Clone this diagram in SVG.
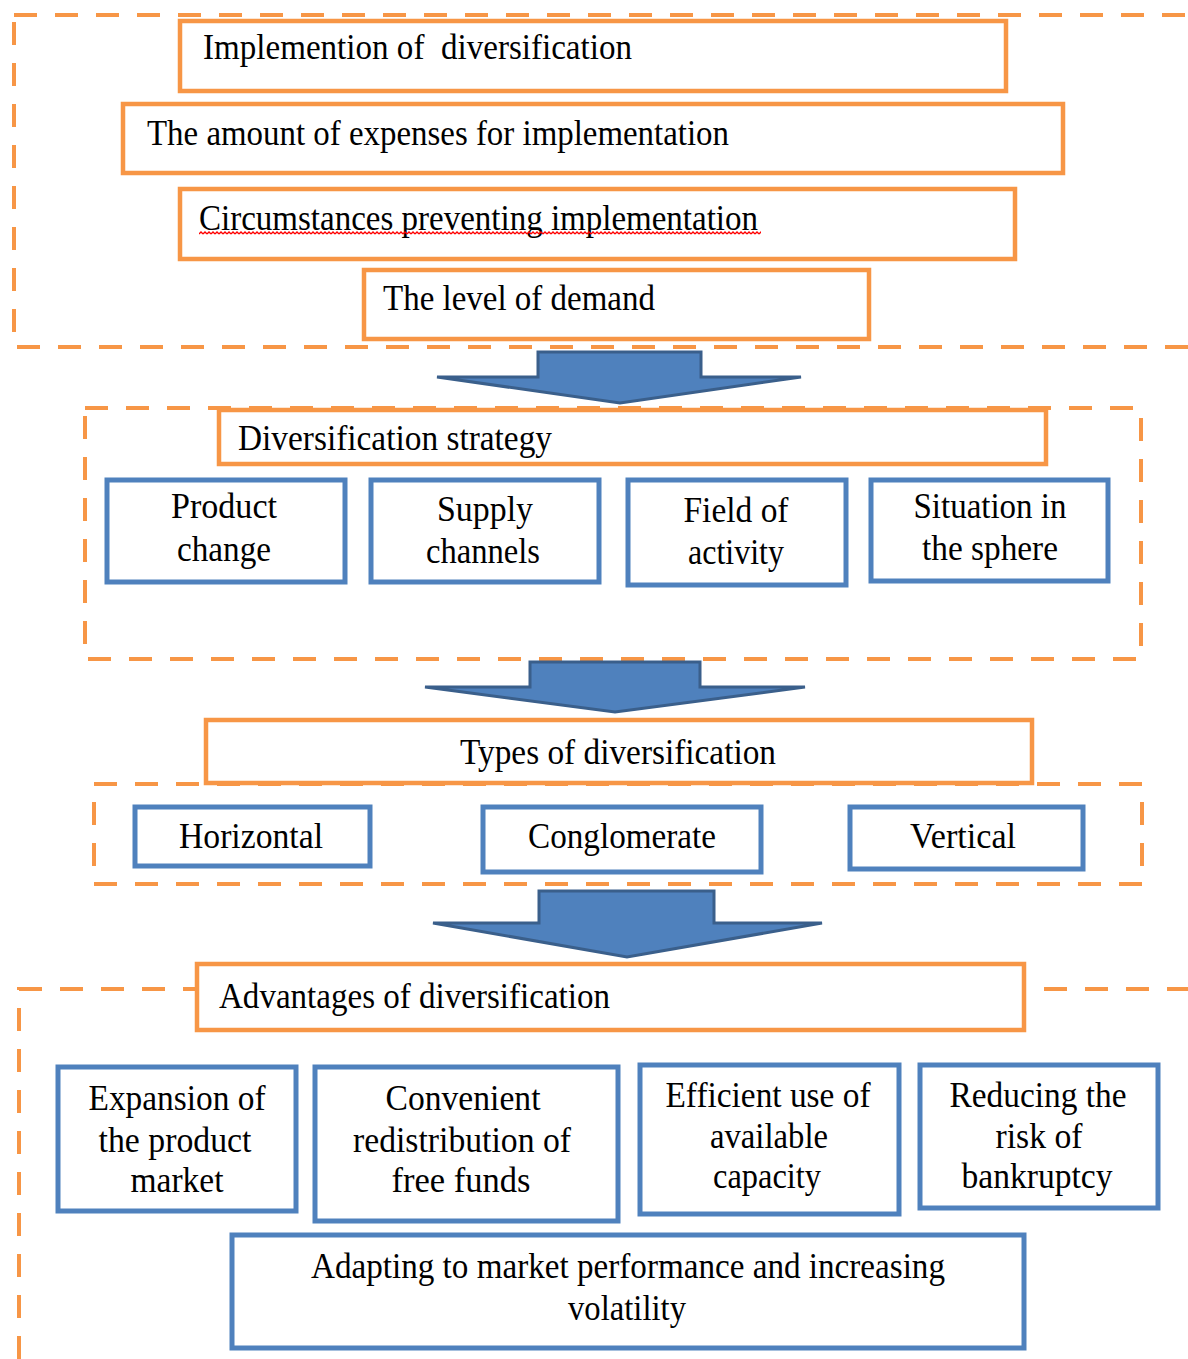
<svg xmlns="http://www.w3.org/2000/svg" width="1188" height="1359" viewBox="0 0 1188 1359">
<style>
.cont{fill:none;stroke:#F79646;stroke-width:4;stroke-dasharray:23 18}
.ob{fill:#fff;stroke:#F79646;stroke-width:4.5}
.bb{fill:#fff;stroke:#4F81BD;stroke-width:5}
.t{font-family:"Liberation Serif","Times New Roman",serif;font-size:36px;fill:#000}
.c{text-anchor:middle}
.arr{fill:#4F81BD;stroke:#3A5F8B;stroke-width:3;stroke-linejoin:miter}
</style>
<defs>
<pattern id="squig" x="199" y="231" width="4" height="4" patternUnits="userSpaceOnUse">
<path d="M0,3 L2,1 L4,3" fill="none" stroke="#FF0000" stroke-width="1.3"/>
</pattern>
</defs>
<rect width="1188" height="1359" fill="#fff"/>
<g id="containers">
<rect class="cont" x="14" y="15" width="1200" height="332"/>
<rect class="cont" x="85" y="408" width="1056" height="251"/>
<rect class="cont" x="94" y="784" width="1048" height="100"/>
<rect class="cont" x="19" y="989" width="1200" height="420"/>
</g>
<g id="connectors">
<polygon class="arr" points="538,352 701,352 701,377 801,377 620,403 437,377 538,377"/>
<polygon class="arr" points="530,662 700,662 700,687 805,687 615,712 425,687 530,687"/>
<polygon class="arr" points="539,891 714,891 714,923 822,923 627,957 433,923 539,923"/>
</g>
<g id="n-implemention">
<rect class="ob" x="180" y="21" width="826" height="70"/>
<text class="t" x="203" y="59" textLength="429" lengthAdjust="spacingAndGlyphs" xml:space="preserve">Implemention of  diversification</text>
</g>
<g id="n-expenses">
<rect class="ob" x="123" y="104" width="940" height="69"/>
<text class="t" x="147" y="145" textLength="582" lengthAdjust="spacingAndGlyphs">The amount of expenses for implementation</text>
</g>
<g id="n-circumstances">
<rect class="ob" x="180" y="189" width="835" height="70"/>
<text class="t" x="199" y="230" textLength="559" lengthAdjust="spacingAndGlyphs">Circumstances preventing implementation</text>
<rect x="199" y="231" width="562" height="4" fill="url(#squig)"/>
</g>
<g id="n-demand">
<rect class="ob" x="364" y="270" width="505" height="69"/>
<text class="t" x="383" y="310" textLength="272" lengthAdjust="spacingAndGlyphs">The level of demand</text>
</g>
<g id="n-strategy">
<rect class="ob" x="219" y="410" width="827" height="54"/>
<text class="t" x="238" y="450" textLength="314" lengthAdjust="spacingAndGlyphs">Diversification strategy</text>
</g>
<g id="n-product">
<rect class="bb" x="107" y="480" width="238" height="102"/>
<text class="t c" x="224" y="518" textLength="106" lengthAdjust="spacingAndGlyphs">Product</text>
<text class="t c" x="224" y="561" textLength="94" lengthAdjust="spacingAndGlyphs">change</text>
</g>
<g id="n-supply">
<rect class="bb" x="371" y="480" width="228" height="102"/>
<text class="t c" x="485" y="521" textLength="96" lengthAdjust="spacingAndGlyphs">Supply</text>
<text class="t c" x="483" y="563" textLength="114" lengthAdjust="spacingAndGlyphs">channels</text>
</g>
<g id="n-field">
<rect class="bb" x="628" y="480" width="218" height="105"/>
<text class="t c" x="736" y="522" textLength="105" lengthAdjust="spacingAndGlyphs">Field of</text>
<text class="t c" x="736" y="564" textLength="96" lengthAdjust="spacingAndGlyphs">activity</text>
</g>
<g id="n-situation">
<rect class="bb" x="871" y="480" width="237" height="101"/>
<text class="t c" x="990" y="518" textLength="153" lengthAdjust="spacingAndGlyphs">Situation in</text>
<text class="t c" x="990" y="560" textLength="136" lengthAdjust="spacingAndGlyphs">the sphere</text>
</g>
<g id="n-types">
<rect class="ob" x="206" y="720" width="826" height="63"/>
<text class="t c" x="618" y="764" textLength="316" lengthAdjust="spacingAndGlyphs">Types of diversification</text>
</g>
<g id="n-horizontal">
<rect class="bb" x="135" y="807" width="235" height="59"/>
<text class="t c" x="251" y="848" textLength="144" lengthAdjust="spacingAndGlyphs">Horizontal</text>
</g>
<g id="n-conglomerate">
<rect class="bb" x="483" y="807" width="278" height="65"/>
<text class="t c" x="622" y="848" textLength="188" lengthAdjust="spacingAndGlyphs">Conglomerate</text>
</g>
<g id="n-vertical">
<rect class="bb" x="850" y="807" width="233" height="62"/>
<text class="t c" x="963" y="848" textLength="106" lengthAdjust="spacingAndGlyphs">Vertical</text>
</g>
<g id="n-advantages">
<rect class="ob" x="197" y="964" width="827" height="66"/>
<text class="t" x="219" y="1008" textLength="391" lengthAdjust="spacingAndGlyphs">Advantages of diversification</text>
</g>
<g id="n-expansion">
<rect class="bb" x="58" y="1067" width="238" height="144"/>
<text class="t c" x="177" y="1110" textLength="177" lengthAdjust="spacingAndGlyphs">Expansion of</text>
<text class="t c" x="175" y="1152" textLength="153" lengthAdjust="spacingAndGlyphs">the product</text>
<text class="t c" x="177" y="1192" textLength="93" lengthAdjust="spacingAndGlyphs">market</text>
</g>
<g id="n-convenient">
<rect class="bb" x="315" y="1067" width="303" height="154"/>
<text class="t c" x="463" y="1110" textLength="155" lengthAdjust="spacingAndGlyphs">Convenient</text>
<text class="t c" x="462" y="1152" textLength="218" lengthAdjust="spacingAndGlyphs">redistribution of</text>
<text class="t c" x="461" y="1192" textLength="139" lengthAdjust="spacingAndGlyphs">free funds</text>
</g>
<g id="n-efficient">
<rect class="bb" x="640" y="1065" width="259" height="149"/>
<text class="t c" x="768" y="1107" textLength="205" lengthAdjust="spacingAndGlyphs">Efficient use of</text>
<text class="t c" x="769" y="1148" textLength="118" lengthAdjust="spacingAndGlyphs">available</text>
<text class="t c" x="767" y="1188" textLength="108" lengthAdjust="spacingAndGlyphs">capacity</text>
</g>
<g id="n-reducing">
<rect class="bb" x="920" y="1065" width="238" height="143"/>
<text class="t c" x="1038" y="1107" textLength="177" lengthAdjust="spacingAndGlyphs">Reducing the</text>
<text class="t c" x="1039" y="1148" textLength="87" lengthAdjust="spacingAndGlyphs">risk of</text>
<text class="t c" x="1037" y="1188" textLength="151" lengthAdjust="spacingAndGlyphs">bankruptcy</text>
</g>
<g id="n-adapting">
<rect class="bb" x="232" y="1235" width="792" height="113"/>
<text class="t c" x="628" y="1278" textLength="634" lengthAdjust="spacingAndGlyphs">Adapting to market performance and increasing</text>
<text class="t c" x="627" y="1320" textLength="118" lengthAdjust="spacingAndGlyphs">volatility</text>
</g>
</svg>
